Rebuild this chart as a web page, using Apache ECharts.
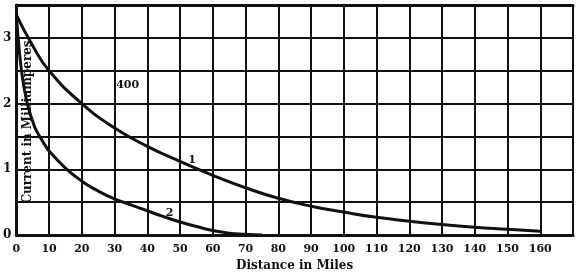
<!DOCTYPE html>
<html>
<head>
<meta charset="utf-8">
<script src="https://cdn.jsdelivr.net/npm/echarts@6/dist/echarts.min.js"></script>
<style>
  html, body { margin: 0; padding: 0; background: #fff; }
  #chart { width: 576px; height: 277px; }
</style>
</head>
<body>
<div id="chart"></div>
<script>
// curve 1 (upper)
var dist1 = [0, 5, 10, 20, 30, 40, 50, 60, 70, 80, 90, 100, 110, 120, 130, 140, 150, 160];
var current1 = [3.35, 2.88, 2.5, 2.0, 1.63, 1.35, 1.12, 0.91, 0.72, 0.56, 0.44, 0.35, 0.27, 0.21, 0.16, 0.12, 0.09, 0.06];
// curve 2 (lower)
var dist2 = [0, 1, 2, 3, 4, 5, 6, 8, 10, 15, 20, 25, 30, 35, 40, 45, 50, 55, 60, 65, 70, 75];
var current2 = [3.35, 2.75, 2.35, 2.08, 1.88, 1.73, 1.6, 1.43, 1.28, 1.02, 0.82, 0.67, 0.55, 0.46, 0.37, 0.28, 0.2, 0.13, 0.07, 0.03, 0.012, 0];
var xTicks = [0, 10, 20, 30, 40, 50, 60, 70, 80, 90, 100, 110, 120, 130, 140, 150, 160];
var yTicks = [0, 1, 2, 3];
// curve notes: [text, distance, current]
var notes = [["400", 34, 2.28], ["1", 53.7, 1.14], ["2", 46.8, 0.34]];

function pairs(xs, ys) {
  return xs.map(function (x, i) { return [x, ys[i]]; });
}

var font = "'DejaVu Serif', serif";
var chart = echarts.init(document.getElementById("chart"));
var option = {
  backgroundColor: "#fff",
  animation: false,
  grid: { left: 16, right: -5, top: 5, bottom: 38 },
  xAxis: [{
    type: "value",
    min: 0,
    max: 170,
    interval: 10,
    name: "Distance in Miles",
    nameLocation: "middle",
    nameGap: 24,
    nameTextStyle: { fontFamily: font, fontWeight: "bold", fontSize: 12, color: "#111" },
    axisLine: { lineStyle: { color: "#111", width: 3 } },
    axisTick: { show: false },
    axisLabel: {
      margin: 9,
      fontFamily: font, fontWeight: "bold", fontSize: 11, color: "#111",
      formatter: function (v) { return xTicks.indexOf(v) >= 0 ? String(v) : ""; }
    },
    splitLine: { lineStyle: { color: "#111", width: 2 } }
  }, {
    // heavier top border
    type: "value",
    position: "top",
    min: 0,
    max: 170,
    interval: 10,
    axisLine: { lineStyle: { color: "#111", width: 3 } },
    axisTick: { show: false },
    axisLabel: { show: false },
    splitLine: { show: false }
  }],
  yAxis: {
    type: "value",
    min: 0,
    max: 3.5,
    interval: 0.5,
    axisLine: { show: true, lineStyle: { color: "#111", width: 3 } },
    axisTick: { show: false },
    axisLabel: {
      margin: 5,
      fontFamily: font, fontWeight: "bold", fontSize: 12, color: "#111",
      formatter: function (v) { return yTicks.indexOf(v) >= 0 ? String(v) : ""; }
    },
    splitLine: { lineStyle: { color: "#111", width: 2 } }
  },
  series: [
    {
      type: "line",
      data: pairs(dist1, current1),
      smooth: 0.5,
      showSymbol: false,
      lineStyle: { color: "#111", width: 3 }
    },
    {
      type: "line",
      data: pairs(dist2, current2),
      smooth: 0.5,
      showSymbol: false,
      lineStyle: { color: "#111", width: 3 }
    }
  ]
};
chart.setOption(option);

// y axis title sits inside the plot, and curve notes
var elements = [{
  type: "text",
  x: 28, y: 122,
  rotation: Math.PI / 2,
  style: {
    text: "Current in Milliamperes",
    fontFamily: font, fontWeight: "bold", fontSize: 12, fill: "#111",
    align: "center", verticalAlign: "middle"
  },
  z: 10
}];
notes.forEach(function (n) {
  var p = chart.convertToPixel({ gridIndex: 0 }, [n[1], n[2]]);
  elements.push({
    type: "text",
    x: p[0], y: p[1],
    style: {
      text: n[0],
      fontFamily: font, fontWeight: "bold", fontSize: 11, fill: "#111",
      align: "center", verticalAlign: "middle"
    },
    z: 10
  });
});
chart.setOption({ graphic: elements });
</script>
</body>
</html>
